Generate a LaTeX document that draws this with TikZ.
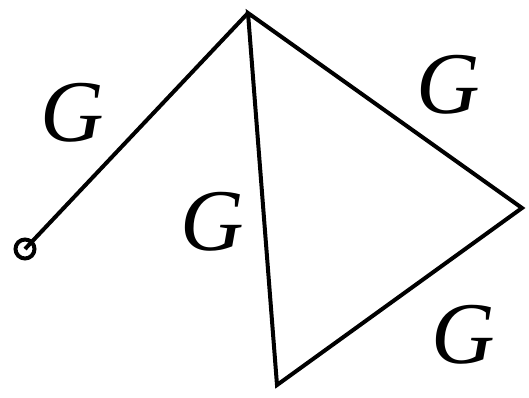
\documentclass[tikz,border=0pt]{standalone}
\usepackage{fontspec}
\setmainfont{Liberation Serif}
\usetikzlibrary{positioning}

\begin{document}
\begin{tikzpicture}[x=1pt,y=-1pt,e/.style={line width=4pt,line join=miter},lbl/.style={inner sep=0pt,font=\fontsize{88}{88}\selectfont\itshape}]
\useasboundingbox (0,0) rectangle (529,397);
\coordinate (o) at (25,249);
\coordinate (t) at (248,13);
\coordinate (r) at (522,208);
\coordinate (b) at (277,385);
\draw[e] (t)--(r)--(b)--cycle;
\draw[e] (o)--(t);
\draw[e] (o) circle (9.5);
\node[lbl] (g1) at (72,113) {G};
\node[lbl] (g2) at (212,222) {G};
\node[lbl] (g3) at (448,85) {G};
\node[lbl] (g4) at (463,335) {G};
\end{tikzpicture}
\end{document}
